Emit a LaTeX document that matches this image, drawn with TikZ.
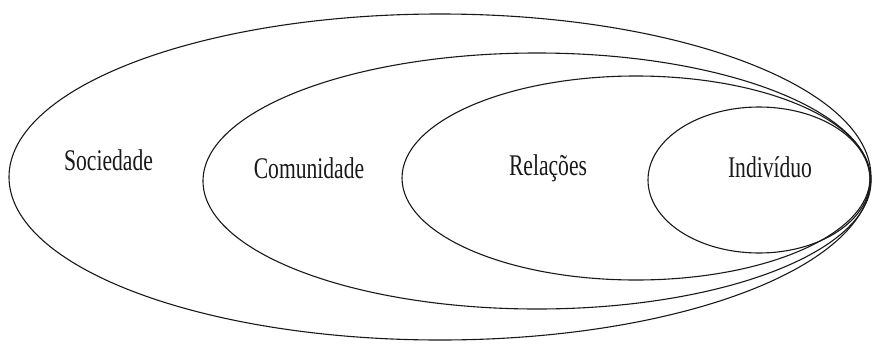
\documentclass[tikz,border=0pt]{standalone}
\usepackage{fontspec}
\setmainfont[FakeStretch=0.72]{Liberation Serif}
\begin{document}
\begin{tikzpicture}[x=1pt,y=-1pt,
  ring/.style={draw=black!90, line width=1.1pt},
  lbl/.style={anchor=base, inner sep=0pt, font=\fontsize{30}{36}\selectfont, text=black!90}]
\useasboundingbox (0,0) rectangle (874,343);
\draw[ring] (440,177) ellipse [x radius=431, y radius=163];
\draw[ring] (537,181) ellipse [x radius=334, y radius=128];
\draw[ring] (636,178) ellipse [x radius=234, y radius=102];
\draw[ring] (759,180) ellipse [x radius=111, y radius=73];
\node[lbl] (soc) at (108.5,170) {Sociedade};
\node[lbl] (com) at (309,178) {Comunidade};
\node[lbl] (rel) at (548,175) {Relações};
\node[lbl] (ind) at (770,177) {Indivíduo};
\end{tikzpicture}
\end{document}
